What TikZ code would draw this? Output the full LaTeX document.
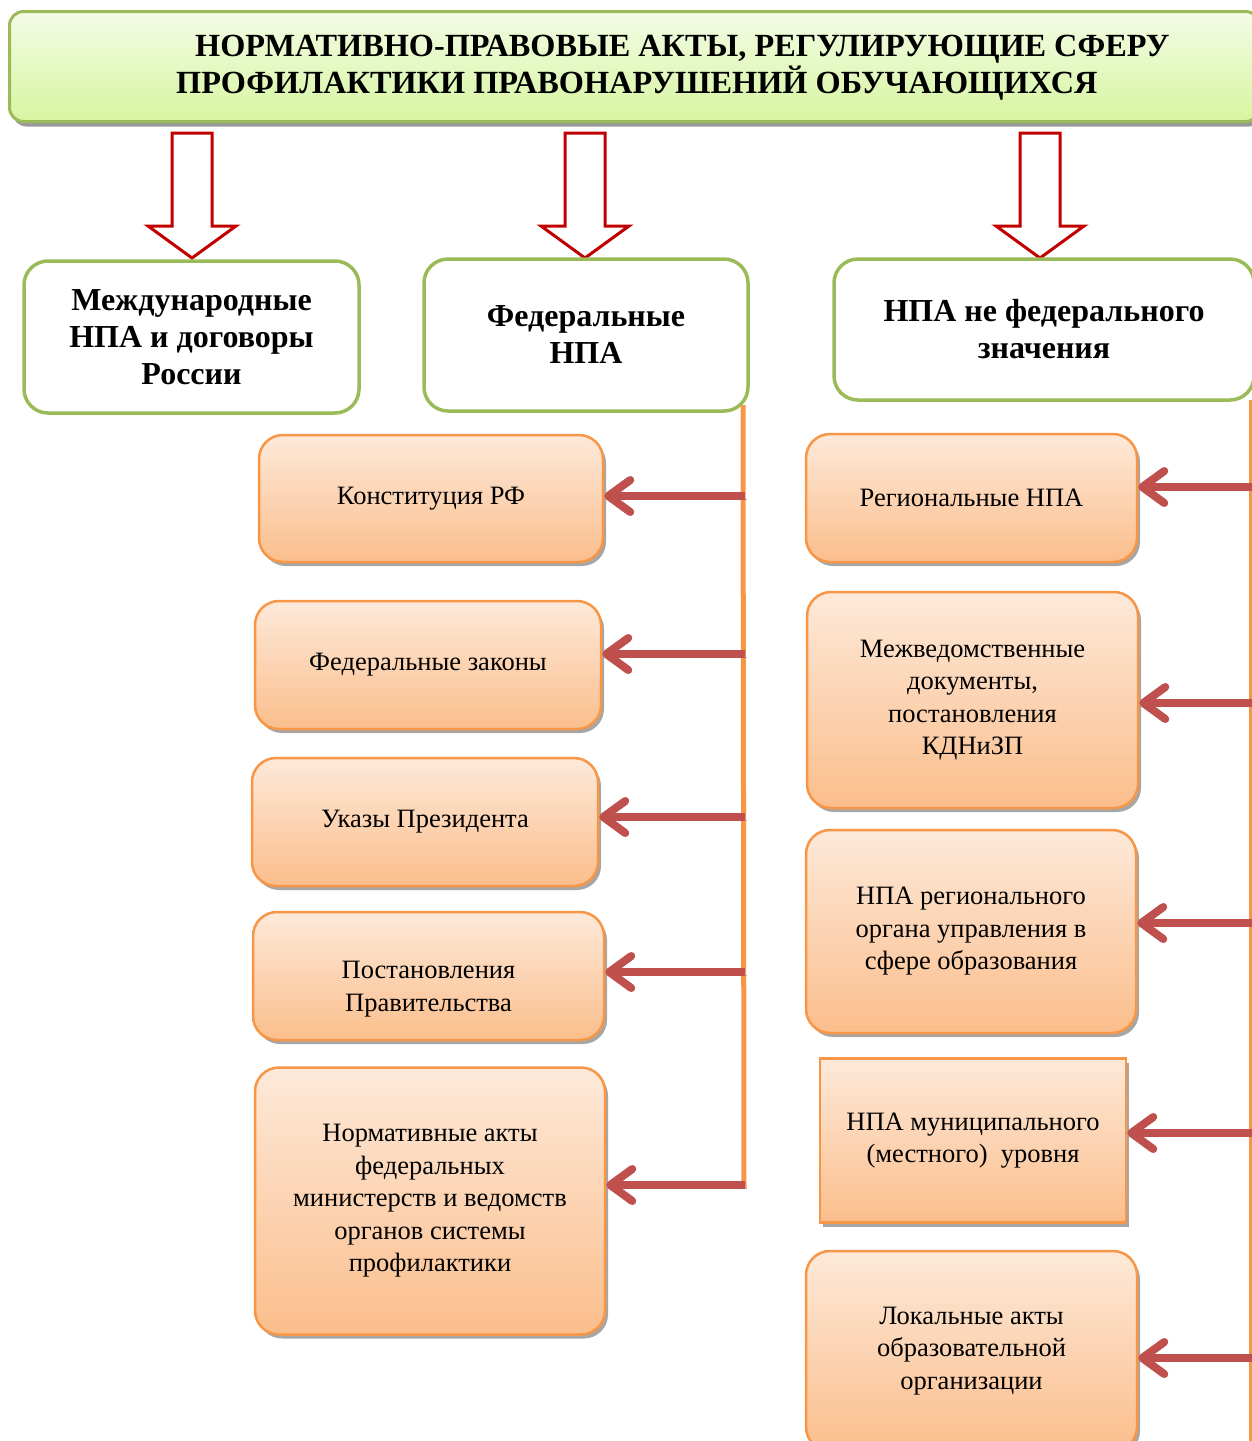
\documentclass[tikz,border=0pt]{standalone}
\usepackage{fontspec}
\setmainfont{Liberation Serif}
\usetikzlibrary{arrows.meta,shadows}
\definecolor{gborder}{RGB}{155,187,89}
\definecolor{gtop}{RGB}{244,252,230}
\definecolor{gbot}{RGB}{214,245,160}
\definecolor{oborder}{RGB}{247,150,70}
\definecolor{otop}{RGB}{253,233,217}
\definecolor{obot}{RGB}{251,190,140}
\definecolor{darrow}{RGB}{192,0,0}
\definecolor{rarrow}{RGB}{192,80,77}
\tikzset{
  titlebox/.style={draw=gborder, line width=3pt, rounded corners=14pt, top color=gtop, bottom color=gbot,
     drop shadow={shadow xshift=3pt, shadow yshift=-5pt, fill=black!40, opacity=1}},
  titletext/.style={font=\fontsize{32.3}{37}\selectfont\bfseries, align=left, inner sep=0pt},
  gbox/.style={draw=gborder, line width=3.5pt, rounded corners=24pt, fill=white,
     font=\fontsize{32}{37}\selectfont\bfseries, align=center},
  otext/.style={font=\fontsize{26.5}{32.5}\selectfont, align=center},
  obox/.style={draw=oborder, line width=2.5pt, rounded corners=24pt, top color=otop, bottom color=obot,
     otext,
     drop shadow={shadow xshift=3pt, shadow yshift=-4pt, fill=black!35, opacity=1}},
  osquare/.style={obox, rounded corners=0pt},
  blockarr/.style={draw=darrow, line width=3pt, fill=white, line join=miter},
  vline/.style={draw=oborder, line width=5pt},
  rarr/.style={draw=rarrow, line width=8pt,
     -{Straight Barb[length=22pt,width=32pt,round]},
     preaction={draw=black!35, transform canvas={xshift=2pt,yshift=-3pt}}}
}
\begin{document}
\begin{tikzpicture}[x=1pt,y=-1pt]
\useasboundingbox (0,0) rectangle (1252,1441);
% title
\node[titlebox, minimum width=1250, minimum height=110, anchor=north west] (title) at (8,10) {};
\node[titletext, anchor=west] (titletxt) at (176,68) {\hspace*{19pt}НОРМАТИВНО-ПРАВОВЫЕ АКТЫ, РЕГУЛИРУЮЩИЕ СФЕРУ\\ПРОФИЛАКТИКИ ПРАВОНАРУШЕНИЙ ОБУЧАЮЩИХСЯ};
% block arrows
\foreach \x/\n in {192/da1, 585/da2, 1040/da3}{
  \draw[blockarr] (\x-20,133) -- (\x+20,133) -- (\x+20,226) -- (\x+44,226) -- (\x,258) -- (\x-44,226) -- (\x-20,226) -- cycle;
}
% green headers
\node[gbox, minimum width=335, minimum height=152] (intl) at (191.5,337) {Международные\\НПА и договоры\\России};
\node[gbox, minimum width=324, minimum height=152] (fed) at (586,335) {Федеральные\\НПА};
\node[gbox, minimum width=420, minimum height=141] (nonfed) at (1044,329.5) {НПА не федерального\\значения};
% vertical lines
\coordinate (vtop) at (743,405);
\coordinate (vbot) at (744,1188);
\draw[vline] (vtop) -- (vbot);
\coordinate (rtop) at (1250,400);
\coordinate (rbot) at (1250,1445);
\draw[draw=oborder, line width=3pt] (rtop) -- (rbot);
% left column boxes
\node[obox, minimum width=344, minimum height=127] (k1) at (431,498.5) {Конституция РФ};
\node[obox, minimum width=346, minimum height=128] (k2) at (428,665) {Федеральные законы};
\node[obox, minimum width=346, minimum height=128] (k3) at (425,822) {Указы Президента};
\node[obox, minimum width=351, minimum height=128,
      label={[otext, yshift=-13pt]center:Постановления\\Правительства}] (k4) at (428.5,976) {};
\node[obox, minimum width=350, minimum height=267] (k5) at (430,1201) {Нормативные акты\\федеральных\\министерств и ведомств\\органов системы\\профилактики};
% right column boxes
\node[obox, minimum width=331, minimum height=128] (r1) at (971.5,498) {Региональные НПА};
\node[obox, minimum width=331, minimum height=216] (r2) at (972.5,700) {Межведомственные\\документы,\\постановления\\КДНиЗП};
\node[obox, minimum width=330, minimum height=203] (r3) at (971,931.5) {НПА регионального\\органа управления в\\сфере образования};
\node[osquare, minimum width=306, minimum height=164] (r4) at (973,1140.5) {НПА муниципального\\(местного)\ \ уровня};
\node[obox, minimum width=331, minimum height=200] (r5) at (971.5,1351) {Локальные акты\\образовательной\\организации};
% left arrows
\foreach \y/\t in {496/k1, 654/k2, 817/k3, 972/k4, 1185/k5}{
  \coordinate (s\t) at (745,\y);
  \draw[rarr] (s\t) -- (\t.east |- s\t);
}
% right arrows
\foreach \y/\t in {487/r1, 703/r2, 923/r3, 1133/r4, 1358/r5}{
  \coordinate (s\t) at (1252,\y);
  \draw[rarr] (s\t) -- (\t.east |- s\t);
}
\end{tikzpicture}
\end{document}
